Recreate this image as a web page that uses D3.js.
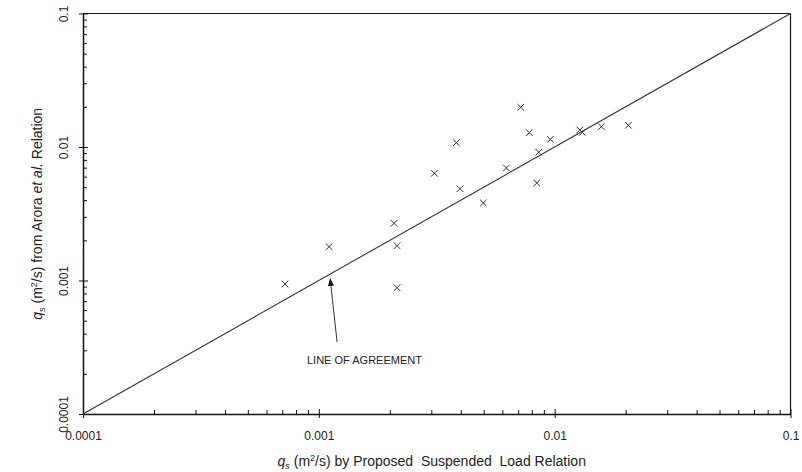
<!DOCTYPE html>
<html><head><meta charset="utf-8">
<script src="https://cdn.jsdelivr.net/npm/d3@7"></script>
<style>
body{margin:0;background:#fff;}
svg{display:block;font-family:"Liberation Sans",Arial,sans-serif;}
.title{white-space:pre;}
</style></head>
<body><svg id="c" width="802" height="472"></svg>
<script>
// Data
const qsProposed = [0.000719,0.001105,0.002084,0.002146,0.002146,0.00309,0.003829,0.00397,0.004984,0.006239,0.007181,0.007811,0.008561,0.008395,0.00959,0.01278,0.0131,0.01578,0.02054];
const qsArora    = [0.000941,0.001791,0.002682,0.001822,0.000883,0.006353,0.01077,0.004871,0.003806,0.006963,0.01983,0.0128,0.00913,0.005374,0.01142,0.01341,0.01288,0.01419,0.01454];
const majorTicks = [0.0001,0.001,0.01,0.1];
const tickLabels = ["0.0001","0.001","0.01","0.1"];
const agreementLine = [[0.0001,0.0001],[0.1,0.1]];
const arrowTip = [0.001116,0.001045];
const arrowTail = [0.001195,0.000346];
const annotationText = "LINE OF AGREEMENT";
const annotationPos = [0.000891,0.000237];

const svg = d3.select("#c");
const L=83, R=790.5, T=13.5, B=414;
const x = d3.scaleLog().domain([1e-4,1e-1]).range([L,R]);
const y = d3.scaleLog().domain([1e-4,1e-1]).range([B,T]);

const allTicks = [];
majorTicks.forEach((m,i)=>{ allTicks.push(m); if(i<majorTicks.length-1) for(let k=2;k<=9;k++) allTicks.push(+(m*k).toPrecision(3)); });
const isMajor = v => majorTicks.some(m=>Math.abs(m-v)/m<1e-6);
const fmt = v => { const i = majorTicks.findIndex(m=>Math.abs(m-v)/m<1e-6); return i>=0?tickLabels[i]:""; };

const axisColor="#111";
// frame top/right
svg.append("line").attr("x1",L).attr("x2",R).attr("y1",T).attr("y2",T).attr("stroke",axisColor).attr("stroke-width",1.2);
svg.append("line").attr("x1",R).attr("x2",R).attr("y1",T).attr("y2",B).attr("stroke",axisColor).attr("stroke-width",1.2);

// bottom axis
const gx = svg.append("g").attr("transform",`translate(0,${B})`)
  .call(d3.axisBottom(x).tickValues(allTicks).tickSize(-4).tickSizeOuter(0).tickFormat(fmt));
gx.select(".domain").attr("stroke",axisColor).attr("stroke-width",1.5);
gx.selectAll(".tick line").attr("stroke",axisColor).attr("y1",d=>isMajor(d)?4:0).attr("y2",d=>isMajor(d)?-5:-4);
gx.selectAll(".tick text").attr("y",26).attr("dy",0).attr("font-size",12).attr("fill","#222")
  .attr("font-family","Liberation Sans, Arial, sans-serif");

// left axis
const gy = svg.append("g").attr("transform",`translate(${L},0)`)
  .call(d3.axisLeft(y).tickValues(allTicks).tickSize(-4).tickSizeOuter(0).tickFormat(fmt));
gy.select(".domain").attr("stroke",axisColor).attr("stroke-width",1.5);
gy.selectAll(".tick line").attr("stroke",axisColor).attr("x1",d=>isMajor(d)?-4:0).attr("x2",d=>isMajor(d)?5:4);
gy.selectAll(".tick text").attr("x",0).attr("y",-15).attr("dy",0).attr("transform","rotate(-90)")
  .attr("text-anchor","middle").attr("font-size",12).attr("fill","#222")
  .attr("font-family","Liberation Sans, Arial, sans-serif");

// line of agreement
svg.append("path").datum(agreementLine)
  .attr("d",d3.line().x(d=>x(d[0])).y(d=>y(d[1])))
  .attr("stroke","#333").attr("stroke-width",1.1).attr("fill","none");

// markers
const pts = qsProposed.map((v,i)=>[v,qsArora[i]]);
const h=3.3;
svg.append("g").selectAll("path").data(pts).join("path")
  .attr("d",d=>{const cx=x(d[0]),cy=y(d[1]);return `M${cx-h},${cy-h}L${cx+h},${cy+h}M${cx-h},${cy+h}L${cx+h},${cy-h}`;})
  .attr("stroke","#333").attr("stroke-width",1).attr("fill","none");

// arrow annotation
const tx=x(arrowTip[0]), ty=y(arrowTip[1]), sx=x(arrowTail[0]), sy=y(arrowTail[1]);
const ang=Math.atan2(ty-sy,tx-sx), al=8, aw=3;
const bx=tx-al*Math.cos(ang), by=ty-al*Math.sin(ang);
svg.append("line").attr("x1",sx).attr("y1",sy).attr("x2",bx).attr("y2",by).attr("stroke","#333").attr("stroke-width",1);
svg.append("path").attr("d",`M${tx},${ty}L${bx+aw*Math.sin(ang)},${by-aw*Math.cos(ang)}L${bx-aw*Math.sin(ang)},${by+aw*Math.cos(ang)}Z`).attr("fill","#111");
svg.append("text").attr("x",x(annotationPos[0])).attr("y",y(annotationPos[1])).attr("font-size",11).attr("fill","#222").text(annotationText);

// axis titles
const xt = svg.append("text").attr("class","title").attr("x",(L+R)/2-5).attr("y",466).attr("text-anchor","middle").attr("font-size",14).attr("fill","#222");
xt.append("tspan").attr("font-style","italic").text("q");
xt.append("tspan").attr("font-style","italic").attr("font-size",9).attr("dy",3).text("s");
xt.append("tspan").attr("dy",-3).text(" (m");
xt.append("tspan").attr("font-size",9).attr("dy",-5).text("2");
xt.append("tspan").attr("dy",5).text("/s) by Proposed  Suspended  Load Relation");

const yt = svg.append("text").attr("class","title").attr("transform",`translate(42,${(T+B)/2}) rotate(-90)`).attr("text-anchor","middle").attr("font-size",14).attr("fill","#222");
yt.append("tspan").attr("font-style","italic").text("q");
yt.append("tspan").attr("font-style","italic").attr("font-size",9).attr("dy",3).text("s");
yt.append("tspan").attr("dy",-3).text(" (m");
yt.append("tspan").attr("font-size",9).attr("dy",-5).text("2");
yt.append("tspan").attr("dy",5).text("/s) from Arora ");
yt.append("tspan").attr("font-style","italic").text("et al.");
yt.append("tspan").text(" Relation");
</script></body></html>
